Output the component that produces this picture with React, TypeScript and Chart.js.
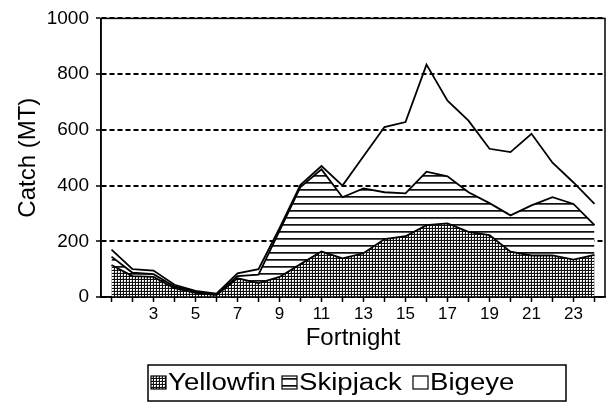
import React, { useEffect, useRef } from 'react';
import { Chart, registerables } from 'chart.js';

Chart.register(...registerables);

const fortnights = ['1','2','3','4','5','6','7','8','9','10','11','12','13','14','15','16','17','18','19','20','21','22','23','24'];
const shownLabels = ['3','5','7','9','11','13','15','17','19','21','23'];
const yellowfin = [115, 75, 72, 32, 15, 7, 67, 50, 72, 118, 163, 139, 157, 208, 218, 258, 264, 234, 222, 163, 149, 149, 134, 151];
const skipjack = [30, 12, 10, 6, 3, 2, 8, 30, 165, 277, 295, 219, 233, 168, 154, 192, 169, 142, 115, 130, 180, 209, 200, 107];
const bigeye = [25, 13, 13, 6, 4, 3, 10, 20, 10, 8, 12, 42, 115, 234, 256, 384, 272, 257, 195, 227, 257, 124, 77, 76];
const yMin = 0;
const yMax = 1000;
const yStep = 200;
const seriesNames = ['Yellowfin', 'Skipjack', 'Bigeye'];

const FONT = "Arial, 'Liberation Sans', Helvetica, sans-serif";

function makeCrosshatch(ctx: CanvasRenderingContext2D) {
  const c = document.createElement('canvas');
  c.width = 3; c.height = 3;
  const g = c.getContext('2d')!;
  g.fillStyle = '#fff'; g.fillRect(0, 0, 3, 3);
  g.fillStyle = '#111'; g.fillRect(0, 0, 3, 1); g.fillRect(0, 0, 1, 3);
  g.fillStyle = '#bbb'; g.fillRect(2, 2, 1, 1);
  return ctx.createPattern(c, 'repeat')!;
}

function makeHLines(ctx: CanvasRenderingContext2D) {
  const c = document.createElement('canvas');
  c.width = 8; c.height = 7;
  const g = c.getContext('2d')!;
  g.fillStyle = '#fff'; g.fillRect(0, 0, 8, 7);
  g.fillStyle = '#111'; g.fillRect(0, 0, 8, 1);
  g.fillStyle = '#555'; g.fillRect(0, 1, 8, 1);
  return ctx.createPattern(c, 'repeat')!;
}

export default function App() {
  const ref = useRef<HTMLCanvasElement | null>(null);
  useEffect(() => {
    const canvas = ref.current!;
    const ctx = canvas.getContext('2d')!;
    const cross = makeCrosshatch(ctx);
    const hlines = makeHLines(ctx);
    const fills: any[] = [cross, hlines, '#fff'];

    const framePlugin = {
      id: 'frame',
      afterDatasetsDraw(chart: any) {
        const { ctx, chartArea: a } = chart;
        ctx.save();
        ctx.strokeStyle = '#000';
        ctx.lineWidth = 1.5;
        ctx.strokeRect(a.left, a.top, a.right - a.left, a.bottom - a.top);
        ctx.restore();
      },
    };

    const legendPlugin = {
      id: 'boxLegend',
      afterDraw(chart: any) {
        const c = chart.ctx as CanvasRenderingContext2D;
        c.save();
        c.strokeStyle = '#000';
        c.lineWidth = 1.5;
        c.strokeRect(148, 365, 418, 36);
        c.font = `23px ${FONT}`;
        c.textBaseline = 'alphabetic';
        const swatchX = [151, 282, 413];
        seriesNames.forEach((name, i) => {
          const x = swatchX[i];
          c.fillStyle = fills[i];
          c.fillRect(x, 376, 15, 13);
          c.strokeStyle = '#000';
          c.lineWidth = 1.2;
          c.strokeRect(x, 376, 15, 13);
          c.fillStyle = '#000';
          c.save();
          c.translate(x + 17, 390);
          c.scale(1.2, 1);
          c.fillText(name, 0, 0);
          c.restore();
        });
        c.restore();
      },
    };

    const chart = new Chart(canvas, {
      type: 'line',
      data: {
        labels: fortnights,
        datasets: [
          { label: seriesNames[0], data: yellowfin, fill: 'origin', backgroundColor: cross, borderColor: '#000', borderWidth: 1.8, pointRadius: 0, tension: 0 },
          { label: seriesNames[1], data: skipjack, fill: '-1', backgroundColor: hlines, borderColor: '#000', borderWidth: 1.8, pointRadius: 0, tension: 0 },
          { label: seriesNames[2], data: bigeye, fill: '-1', backgroundColor: 'rgba(255,255,255,0)', borderColor: '#000', borderWidth: 1.8, pointRadius: 0, tension: 0 },
        ],
      },
      options: {
        responsive: false,
        animation: false,
        devicePixelRatio: 1,
        layout: { padding: { top: 14, right: 7, bottom: 51, left: 0 } },
        plugins: { legend: { display: false }, tooltip: { enabled: false } },
        scales: {
          x: {
            offset: true,
            ticks: {
              autoSkip: false, maxRotation: 0, minRotation: 0, color: '#000', padding: 2,
              font: { size: 17, family: FONT },
              callback: (_v: any, i: number) => (shownLabels.includes(fortnights[i]) ? fortnights[i] : ''),
            },
            grid: { display: true, drawOnChartArea: false, drawTicks: true, tickLength: 5, tickColor: '#000', tickWidth: 1.5, offset: false },
            border: { display: true, color: '#000', width: 1.5 },
            title: { display: true, text: 'Fortnight', color: '#000', font: { size: 24, family: FONT }, padding: { top: 0, bottom: 0 } },
            afterFit: (s: any) => { s.height = 56; },
          },
          y: {
            stacked: true,
            min: yMin,
            max: yMax,
            ticks: { stepSize: yStep, color: '#000', padding: 7, font: { size: 19, family: FONT }, callback: (v: any) => String(v) },
            grid: { color: '#000', lineWidth: 2, tickLength: 5, tickColor: '#000', tickWidth: 1.5 },
            border: { display: true, color: '#000', width: 1.5, dash: [5, 3] },
            title: { display: true, text: 'Catch (MT)', color: '#000', font: { size: 24, family: FONT }, padding: { top: 14, bottom: 0 } },
            afterFit: (s: any) => { s.width = 101; },
          },
        },
      },
      plugins: [framePlugin, legendPlugin],
    });
    return () => chart.destroy();
  }, []);

  return (
    <div style={{ position: 'absolute', left: 0, top: 0, width: 612, height: 404, background: '#fff' }}>
      <canvas ref={ref} width={612} height={404} style={{ width: 612, height: 404 }} />
    </div>
  );
}
